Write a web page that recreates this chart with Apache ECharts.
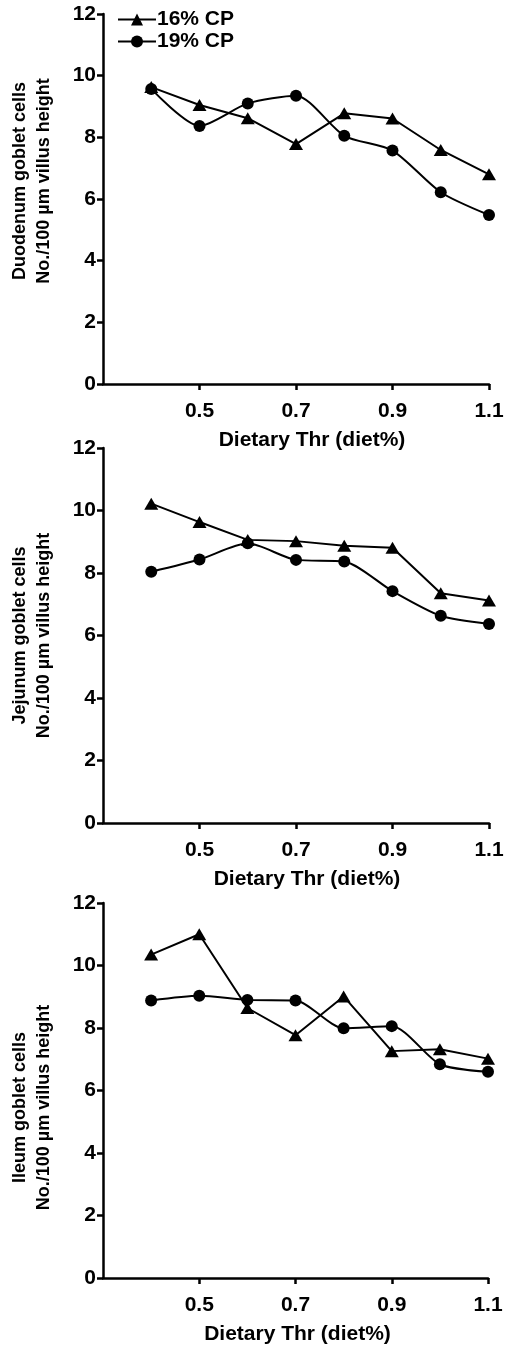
<!DOCTYPE html>
<html>
<head>
<meta charset="utf-8">
<script src="https://cdn.jsdelivr.net/npm/echarts@6/dist/echarts.min.js"></script>
<style>
html,body{margin:0;padding:0;background:#fff;}
#chart{width:510px;height:1346px;}
</style>
</head>
<body>
<div id="chart"></div>
<script>
// ---- data ----
var thr = [0.4, 0.5, 0.6, 0.7, 0.8, 0.9, 1.0, 1.1];
var xTickValues = [0.5, 0.7, 0.9, 1.1];
var seriesNames = ['16% CP', '19% CP'];
var duodenum16 = [9.63, 9.05, 8.62, 7.78, 8.78, 8.61, 7.59, 6.80];
var duodenum19 = [9.57, 8.37, 9.10, 9.35, 8.05, 7.57, 6.22, 5.48];
var jejunum16 = [10.22, 9.63, 9.06, 9.02, 8.87, 8.81, 7.35, 7.12];
var jejunum19 = [8.04, 8.43, 8.95, 8.42, 8.37, 7.42, 6.63, 6.37];
var ileum16 = [10.35, 11.00, 8.64, 7.77, 9.01, 7.26, 7.32, 7.02];
var ileum19 = [8.88, 9.03, 8.90, 8.88, 7.99, 8.06, 6.84, 6.60];
var yTitles = ['Duodenum goblet cells\nNo./100 \u00b5m villus height',
               'Jejunum goblet cells\nNo./100 \u00b5m villus height',
               'Ileum goblet cells\nNo./100 \u00b5m villus height'];
var xTitle = 'Dietary Thr (diet%)';

var FONT = 'Liberation Sans, Arial, Helvetica, sans-serif';
var BLACK = '#000';

function pairs(ys) { return thr.map(function (x, i) { return [x, ys[i]]; }); }

var grids = [
  {left: 103, top: 14, width: 386, height: 370},
  {left: 100, top: 448, width: 389, height: 375},
  {left: 99, top: 903, width: 389, height: 376}
];
var yTitlePad = [[0, 0, 0, 36], [0, 0, 0, 0], [0, 34, 0, 0]];
var xTitlePad = [[0, 0, 0, 32], [0, 0, 0, 22], [0, 0, 0, 4]];

var xAxes = [], yAxes = [], series = [];
var panels = [[duodenum16, duodenum19], [jejunum16, jejunum19], [ileum16, ileum19]];

grids.forEach(function (g, i) {
  xAxes.push({
    type: 'value', gridIndex: i, min: 0.3, max: 1.1,
    name: xTitle, nameLocation: 'middle', nameGap: 46,
    nameTextStyle: {fontFamily: FONT, fontSize: 21, fontWeight: 'bold', color: BLACK, padding: xTitlePad[i]},
    axisLine: {show: true, onZero: false, lineStyle: {color: BLACK, width: 2.5}},
    axisTick: {show: true, customValues: xTickValues, length: 6, lineStyle: {color: BLACK, width: 2.5}},
    axisLabel: {show: true, customValues: xTickValues, margin: 17, fontFamily: FONT, fontSize: 21, fontWeight: 'bold', color: BLACK,
      formatter: function (v) { return v.toFixed(1); }},
    splitLine: {show: false}
  });
  yAxes.push({
    type: 'value', gridIndex: i, min: 0, max: 12, interval: 2,
    name: yTitles[i], nameLocation: 'middle', nameGap: 47, nameRotate: 90,
    nameTextStyle: {fontFamily: FONT, fontSize: 18, fontWeight: 'bold', color: BLACK, lineHeight: 24, padding: yTitlePad[i]},
    axisLine: {show: true, lineStyle: {color: BLACK, width: 2.5}},
    axisTick: {show: true, length: 6, lineStyle: {color: BLACK, width: 2.5}},
    axisLabel: {show: true, margin: 7, fontFamily: FONT, fontSize: 21, fontWeight: 'bold', color: BLACK},
    splitLine: {show: false}
  });
  series.push({
    name: seriesNames[0], type: 'line', xAxisIndex: i, yAxisIndex: i,
    data: pairs(panels[i][0]),
    symbol: 'triangle', symbolSize: [14, 12],
    lineStyle: {color: BLACK, width: 2}, itemStyle: {color: BLACK},
    emphasis: {disabled: true}, animation: false
  });
  series.push({
    name: seriesNames[1], type: 'line', xAxisIndex: i, yAxisIndex: i,
    data: pairs(panels[i][1]),
    symbol: 'circle', symbolSize: 12, smooth: 0.25,
    lineStyle: {color: BLACK, width: 2}, itemStyle: {color: BLACK},
    emphasis: {disabled: true}, animation: false
  });
});

var chart = echarts.init(document.getElementById('chart'), null, {renderer: 'canvas'});
chart.setOption({
  backgroundColor: '#fff',
  animation: false,
  grid: grids,
  xAxis: xAxes,
  yAxis: yAxes,
  legend: {
    data: seriesNames,
    orient: 'vertical', left: 112, top: 4, itemWidth: 38, itemHeight: 15, itemGap: 1,
    textStyle: {fontFamily: FONT, fontSize: 21, fontWeight: 'bold', color: BLACK, padding: [0, 0, 0, -4]},
    selectedMode: false
  },
  series: series
});
</script>
</body>
</html>
